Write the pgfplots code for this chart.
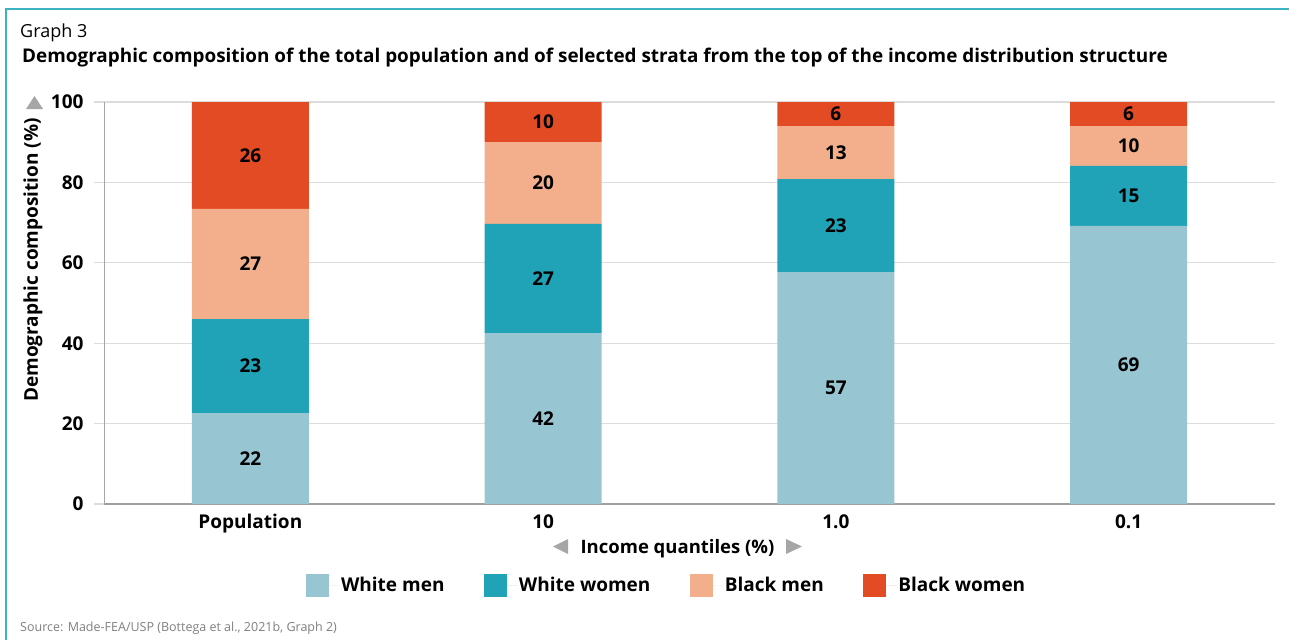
\documentclass[border=0pt]{standalone}
\usepackage{fontspec}
\setmainfont{Open Sans}
\usepackage{pgfplots}
\pgfplotsset{compat=1.18}
\usepackage{pgfplotstable}
\definecolor{wm}{HTML}{97C6D2}
\definecolor{ww}{HTML}{20A3B7}
\definecolor{bm}{HTML}{F3AE8B}
\definecolor{bw}{HTML}{E34B25}
\definecolor{framec}{HTML}{3BB3C3}
\definecolor{gridc}{HTML}{DCDCDC}
\definecolor{tri}{HTML}{A6A6A6}
\pgfplotstableread{
x wm ww bm bw lwm lww lbm lbw
0 22.6 23.4 27.4 26.6 22 23 27 26
1 42.5 27.2 20.3 10.0 42 27 20 10
2 57.7 23.1 13.2 6.0 57 23 13 6
3 69.2 14.9 9.9 6.0 69 15 10 6
}\data
\newcommand{\bfont}{\fontsize{19bp}{22bp}\selectfont\bfseries}
\pgfplotsset{
  sq/.style={legend image code/.code={\path (0bp,0bp) -- (33bp,0bp);\fill[##1,draw=none] (0bp,-11.5bp) rectangle (23bp,11.5bp);}},
  lab/.style={draw=none, nodes near coords, point meta=explicit symbolic,
    nodes near coords style={anchor=center, font=\bfont, text=black}},
}
\begin{document}
\begin{tikzpicture}
\useasboundingbox (0,0) rectangle (1289bp,-640bp);
\fill[white] (0,0) rectangle (1289bp,-640bp);
\draw[framec, line width=2bp] (6bp,-640bp) -- (6bp,-9bp) -- (1289bp,-9bp);
\node[anchor=base west, inner sep=0, font=\fontsize{18bp}{20bp}\selectfont] at (20bp,-37bp) {Graph 3};
\node[anchor=base west, inner sep=0, font=\fontsize{18.9bp}{22bp}\selectfont\bfseries] at (22bp,-62bp) {Demographic composition of the total population and of selected strata from the top of the income distribution structure};
\node[anchor=base west, inner sep=0, text=gray, font=\fontsize{12.5bp}{14bp}\selectfont] at (20bp,-631bp) {Source: Made-FEA/USP (Bottega et al., 2021b, Graph 2)};
\begin{axis}[
  at={(104bp,-504bp)}, anchor=south west,
  scale only axis, width=1171bp, height=402bp,
  ybar stacked, bar width=0.4,
  xmin=-0.5, xmax=3.5, ymin=0, ymax=100,
  xtick={0,1,2,3}, xticklabels={Population,10,1.0,0.1},
  ytick={0,20,...,100},
  /pgf/number format/assume math mode=true,
  ticklabel style={font=\bfont},
  yticklabel style={xshift=-7bp},
  xticklabel style={yshift=3bp},
  axis x line*=bottom, axis y line*=left,
  x axis line style={draw=gray!75, line width=1.6bp, -},
  y axis line style={draw=gray!70, line width=0.8bp, -},
  ymajorgrids, grid style={draw=gridc, line width=1.3bp},
  tick align=outside, major tick length=10bp,
  ytick style={draw=gridc, line width=1.3bp},
  xtick style={draw=none},
  legend style={at={(0.4805,-0.2015)}, anchor=center, draw=none, legend columns=4,
    font=\bfont, /tikz/every even column/.append style={column sep=37.5bp}},
]
\addplot[fill=wm, draw=none, sq] table[x=x, y=wm] {\data};
\addplot[fill=ww, draw=none, sq] table[x=x, y=ww] {\data};
\addplot[fill=bm, draw=none, sq] table[x=x, y=bm] {\data};
\addplot[fill=bw, draw=none, sq] table[x=x, y=bw] {\data};
\legend{White men, White women, Black men, Black women}
\end{axis}
\begin{axis}[
  at={(104bp,-504bp)}, anchor=south west,
  scale only axis, width=1171bp, height=402bp,
  xmin=-0.5, xmax=3.5, ymin=0, ymax=100, hide axis,
]
\addplot[lab] table[x=x, y expr=\thisrow{wm}/2, meta=lwm] {\data};
\addplot[lab] table[x=x, y expr=\thisrow{wm}+\thisrow{ww}/2, meta=lww] {\data};
\addplot[lab] table[x=x, y expr=\thisrow{wm}+\thisrow{ww}+\thisrow{bm}/2, meta=lbm] {\data};
\addplot[lab] table[x=x, y expr=100-\thisrow{bw}/2, meta=lbw] {\data};
\end{axis}
\node[rotate=90, font=\bfont] at (33bp,-260bp) {Demographic composition (\%)};
\fill[tri] (26bp,-109bp) -- (43bp,-109bp) -- (34.5bp,-96bp) -- cycle;
\fill[tri] (553bp,-546.5bp) -- (568bp,-539bp) -- (568bp,-554bp) -- cycle;
\fill[tri] (802bp,-546.5bp) -- (786bp,-539bp) -- (786bp,-554bp) -- cycle;
\node[anchor=base, inner sep=0, font=\fontsize{18.5bp}{22bp}\selectfont\bfseries] at (677.5bp,-553bp) {Income quantiles (\%)};
\end{tikzpicture}
\end{document}
